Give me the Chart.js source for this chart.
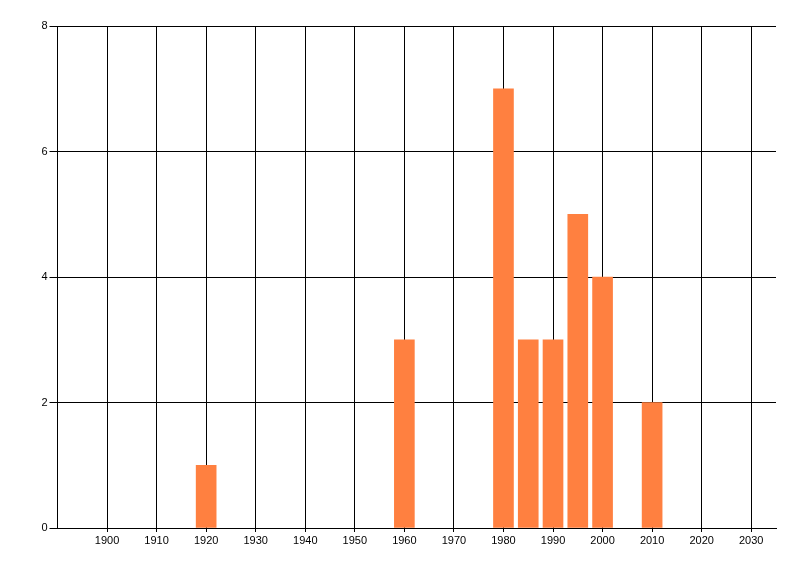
<!DOCTYPE html>
<html>
<head>
<meta charset="utf-8">
<script src="https://cdn.jsdelivr.net/npm/chart.js@4/dist/chart.umd.min.js"></script>
<style>
  html, body { margin: 0; padding: 0; background: #fff; }
  #wrap { width: 800px; height: 576px; }
</style>
</head>
<body>
<div id="wrap"><canvas id="myChart"></canvas></div>
<script>
// data
const years = [1920, 1960, 1980, 1985, 1990, 1995, 2000, 2010];
const counts = [1, 3, 7, 3, 3, 5, 4, 2];
const xTicks = [1900, 1910, 1920, 1930, 1940, 1950, 1960, 1970, 1980, 1990, 2000, 2010, 2020, 2030];
const yTicks = [0, 2, 4, 6, 8];

const points = years.map((y, i) => ({ x: y, y: counts[i] }));

let ctx = document.getElementById('myChart').getContext('2d');
new Chart(ctx, {
  type: 'bar',
  data: {
    datasets: [{
      data: points,
      backgroundColor: '#ff8040',
      borderWidth: 0,
      barThickness: 20
    }]
  },
  options: {
    responsive: true,
    maintainAspectRatio: false,
    animation: false,
    layout: { padding: { top: 26, right: 24, left: 0, bottom: 0 } },
    plugins: { legend: { display: false }, tooltip: { enabled: false } },
    scales: {
      x: {
        type: 'linear',
        min: 1890,
        max: 2035,
        offset: false,
        afterBuildTicks: (scale) => {
          scale.ticks = xTicks.map(v => ({ value: v }));
        },
        afterFit: (scale) => { scale.height = 48; },
        ticks: {
          color: '#000',
          padding: 2,
          maxRotation: 0,
          autoSkip: false,
          font: { family: 'Liberation Sans', size: 11 },
          callback: (v) => String(v)
        },
        grid: { color: '#000', lineWidth: 1, tickLength: 4, offset: false },
        border: { display: true, color: '#000', width: 1 }
      },
      y: {
        min: 0,
        max: 8,
        afterBuildTicks: (scale) => {
          scale.ticks = yTicks.map(v => ({ value: v }));
        },
        afterFit: (scale) => { scale.width = 57.5; },
        ticks: {
          color: '#000',
          padding: 2,
          font: { family: 'Liberation Sans', size: 11 }
        },
        grid: { color: '#000', lineWidth: 1, tickLength: 8 },
        border: { display: true, color: '#000', width: 1 }
      }
    }
  }
});
</script>
</body>
</html>
